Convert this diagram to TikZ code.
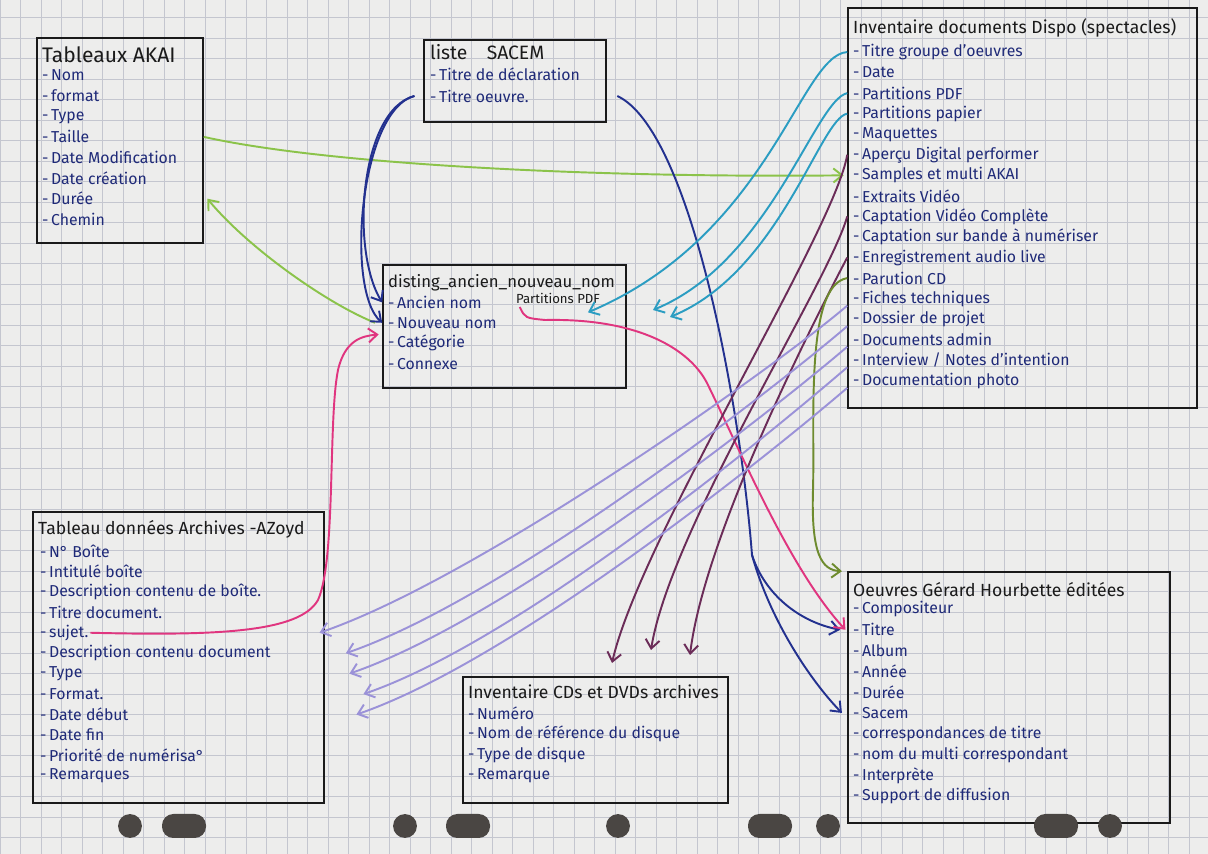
\documentclass[tikz,border=0pt]{standalone}
\usepackage{fontspec}
\setmainfont{Fira Sans}
\usetikzlibrary{arrows.meta, positioning, calc, fit}

\definecolor{paper}{HTML}{EDEDEC}
\definecolor{gridc}{HTML}{C4C6CF}
\definecolor{ink}{HTML}{1F2A78}
\definecolor{pen}{HTML}{1A1A1A}
\definecolor{greenpen}{HTML}{8BC34A}
\definecolor{navypen}{HTML}{23318F}
\definecolor{cyanpen}{HTML}{2B9DC2}
\definecolor{rosepen}{HTML}{E0357F}
\definecolor{plumpen}{HTML}{6B2C58}
\definecolor{olivepen}{HTML}{6E8B2E}
\definecolor{lilacpen}{HTML}{9B92D8}
\definecolor{hole}{HTML}{4A4643}

\begin{document}
\begin{tikzpicture}[
        x=0.02cm, y=-0.02cm,
        box/.style={draw=pen, line width=0.9pt, inner sep=0pt},
        title/.style={anchor=west, inner sep=1pt, text=pen, font=\fontsize{10}{12}\selectfont},
        item/.style={anchor=west, inner sep=1pt, text=ink, font=\fontsize{9}{10}\selectfont, execute at begin node={-\,}},
        link/.style={line width=1.1pt, -{Straight Barb[length=5pt, width=8pt]}},
        plain/.style={line width=1.1pt}
    ]

    % Paper
    \useasboundingbox (0,0) rectangle (1208,854);
    \fill[paper] (0,0) rectangle (1208,854);
    \foreach \k in {0,...,59} \draw[gridc, line width=0.45pt] ({20.5*\k},0) -- ++(0,854);
    \foreach \k in {0,...,41} \draw[gridc, line width=0.45pt] (0,{-3+20.5*\k}) -- ++(1208,0);

    % Nodes
    \node (akai) [box, fit={(37,38) (203,243)}] {};
    \node (akai-t) [title, font=\fontsize{12}{14}\selectfont] at (40,55) {Tableaux AKAI};
    \foreach \t [count=\i] in {Nom, format, Type, Taille, Date Modification, Date création, Durée, Chemin}
        \node (akai-\i) [item] at (40,{54.5+20.6*\i}) {\t};

    \node (sacem) [box, fit={(424,40) (606,122)}] {};
    \node (sacem-t) [title, font=\fontsize{11}{13}\selectfont] at (428,52) {liste\quad SACEM};
    \node (sacem-1) [item] at (428,74) {Titre de déclaration};
    \node (sacem-2) [item] at (428,96) {Titre oeuvre.};

    \node (disting) [box, fit={(383,265) (626,388)}] {};
    \node (disting-t) [title, font=\fontsize{9.5}{11}\selectfont] at (386,283) {disting\_ancien\_nouveau\_nom};
    \node (disting-pdf) [anchor=west, inner sep=1pt, text=pen, font=\fontsize{7.5}{8}\selectfont] at (514,298) {Partitions PDF};
    \foreach \t [count=\i] in {Ancien nom, Nouveau nom, Catégorie, Connexe}
        \node (disting-\i) [item] at (386,{282+20.4*\i}) {\t};

    \node (dispo) [box, fit={(848,8) (1197,408)}] {};
    \node (dispo-t) [title] at (851,28) {Inventaire documents Dispo (spectacles)};
    \foreach \t [count=\i] in {Titre groupe d'oeuvres, Date, Partitions PDF, Partitions papier, Maquettes,
            Aperçu Digital performer, Samples et multi AKAI, Extraits Vidéo, Captation Vidéo Complète,
            Captation sur bande à numériser, Enregistrement audio live, Parution CD, Fiches techniques,
            Dossier de projet, Documents admin, {Interview / Notes d'intention}, Documentation photo}
        \node (dispo-\i) [item] at (851,{31.5+20.55*\i}) {\t};

    \node (archives) [box, fit={(33,512) (324,803)}] {};
    \node (archives-t) [title] at (36,529) {Tableau données Archives -AZoyd};
    \foreach \t [count=\i] in {N° Boîte, Intitulé boîte, Description contenu de boîte., Titre document., sujet.,
            Description contenu document, Type, Format., Date début, Date fin, Priorité de numérisa°, Remarques}
        \node (archives-\i) [item] at (38,{530.5+20.45*\i}) {\t};

    \node (cds) [box, fit={(463,677) (728,803)}] {};
    \node (cds-t) [title] at (466,692) {Inventaire CDs et DVDs archives};
    \foreach \t [count=\i] in {Numéro, Nom de référence du disque, Type de disque, Remarque}
        \node (cds-\i) [item] at (466,{692.5+20.7*\i}) {\t};

    \node (oeuvres) [box, fit={(848,572) (1170,823)}] {};
    \node (oeuvres-t) [title] at (851,590) {Oeuvres Gérard Hourbette éditées};
    \foreach \t [count=\i] in {Compositeur, Titre, Album, Année, Durée, Sacem, correspondances de titre,
            nom du multi correspondant, Interprète, Support de diffusion}
        \node (oeuvres-\i) [item] at (851,{588.2+20.8*\i}) {\t};

    % free ends
    \coordinate (navy-split) at (752,555);
    \coordinate (cyan-b) at (653,310);
    \coordinate (cyan-c) at (670,317);
    \coordinate (rose-start) at ([xshift=12pt, yshift=9pt]disting-2.east);
    \coordinate (cd-a) at (612,663);
    \coordinate (cd-b) at (651,650);
    \coordinate (cd-c) at (690,655);

    % Connections
    \draw[link, greenpen] (akai.east |- akai-4) .. controls (330,165) and (600,178) .. ([xshift=-2pt]dispo.west |- dispo-7);
    \draw[link, greenpen] ([xshift=-4pt]disting.west |- disting-2) .. controls (330,305) and (250,250) .. ([xshift=2pt]akai.east |- akai-7);

    \draw[link, navypen] ([xshift=-5pt]sacem.west |- sacem-2) .. controls (360,110) and (350,250) .. (disting.west |- disting-1);
    \draw[link, navypen] ([xshift=-5pt]sacem.west |- sacem-2) .. controls (360,110) and (345,290) .. (disting.west |- disting-2);
    \draw[plain, navypen] ([xshift=6pt]sacem.east |- sacem-2) .. controls (690,130) and (740,400) .. (navy-split);
    \draw[link, navypen] (navy-split) .. controls (765,595) and (800,622) .. ([xshift=-4pt]oeuvres.west |- oeuvres-2);
    \draw[link, navypen] (navy-split) .. controls (770,620) and (810,680) .. ([xshift=-3pt]oeuvres.west |- oeuvres-6);

    \draw[link, cyanpen] (dispo.west |- dispo-1) .. controls (800,55) and (770,235) .. ([xshift=-8pt, yshift=-4pt]disting-pdf.south east);
    \draw[link, cyanpen] (dispo.west |- dispo-3) .. controls (815,100) and (770,262) .. (cyan-b);
    \draw[link, cyanpen] (dispo.west |- dispo-4) .. controls (820,118) and (780,272) .. (cyan-c);

    \draw[link, rosepen] (rose-start) .. controls (525,318) .. (545,320) .. controls (640,318) and (690,350) .. (707,383)
        .. controls (740,450) and (790,570) .. ([xshift=-1pt]oeuvres.west |- oeuvres-2);
    \draw[link, rosepen] (archives-5.east) .. controls (220,636) and (300,632) .. (318,600) .. controls (336,560) and (328,420) .. (338,370)
        .. controls (345,340) and (362,336) .. ([xshift=-2pt, yshift=5pt]disting.west |- disting-3);

    \draw[link, plumpen] (dispo.west |- dispo-6) .. controls (835,230) and (640,540) .. (cd-a);
    \draw[link, plumpen] (dispo.west |- dispo-9) .. controls (830,280) and (670,530) .. (cd-b);
    \draw[link, plumpen] (dispo.west |- dispo-11) .. controls (825,300) and (705,530) .. (cd-c);

    \draw[link, olivepen] (dispo.west |- dispo-12) .. controls (805,285) and (815,420) .. (813,490)
        .. controls (811,555) and (822,570) .. ([xshift=-3pt]oeuvres.north west);

    \foreach \s/\e/\dx in {13/5/-3pt, 14/6/12pt, 15/7/14pt, 16/8/22pt, 17/9/18pt}
        \draw[link, lilacpen] ([yshift=-4pt]dispo.west |- dispo-\s) .. controls +(-70,60) and +(160,-55) .. ([xshift=\dx]archives.east |- archives-\e);

    % punch holes
    \foreach \hx in {130,405,618,828,1110} \fill[hole] (\hx,826) circle[radius=6.8pt];
    \foreach \hx in {184,468,770,1056} \fill[hole, rounded corners=6.5pt] (\hx-22,814) rectangle (\hx+22,838);

\end{tikzpicture}
\end{document}
